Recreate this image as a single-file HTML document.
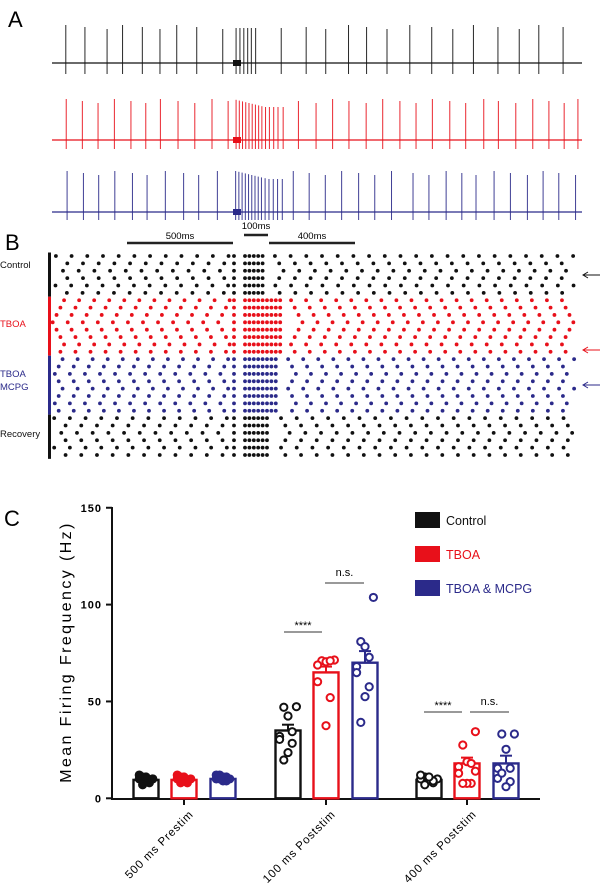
<!DOCTYPE html>
<html><head><meta charset="utf-8"><style>
html,body{margin:0;padding:0;background:#fff;}
svg{display:block;font-family:"Liberation Sans",Arial,sans-serif;}
</style></head><body>
<svg id="fig" width="600" height="896" viewBox="0 0 600 896">
<text x="8" y="27" font-size="22">A</text>
<text x="5" y="250" font-size="22">B</text>
<text x="4" y="526" font-size="22">C</text>
<g id="pa"></g>
<g id="pb"></g>
<g id="pc"></g>
</svg>
<script>
const NS="http://www.w3.org/2000/svg";
function mk(tag,attrs,parent,txt){const e=document.createElementNS(NS,tag);for(const k in attrs)e.setAttribute(k,attrs[k]);if(txt!==undefined)e.textContent=txt;parent.appendChild(e);return e;}

// ---------- Panel A data (spike times, ms relative to stim) ----------
const spikesControl=[-787,-698,-595,-523,-431,-349,-271,-178,-57,5,23,41,59,76,96,215,331,422,528,612,707,813,915,1013,1109,1223,1322,1413,1526];
const spikesTBOA=[-785,-710,-637,-561,-484,-415,-347,-265,-187,-107,-32,5,20,35,50,65,80,95,110,125,142,160,180,200,224,295,377,454,530,610,687,767,842,918,999,1073,1157,1225,1306,1385,1460,1531,1595];
const spikesMCPG=[-781,-705,-634,-559,-477,-409,-324,-239,-169,-82,3,18,33,48,63,78,93,108,123,140,158,178,198,220,271,345,420,496,575,650,728,828,902,982,1055,1121,1205,1281,1360,1433,1506,1584];
const traceLabels=["control","tboa","tboa-mcpg"];
const tx=t=>235+t*0.215;
const pa=document.getElementById('pa');
const traces=[[spikesControl,"#111",63,25,74],[spikesTBOA,"#e8101a",140,99,149],[spikesMCPG,"#2b2a8a",212,171,220]];
traces.forEach((tr,i)=>{
  const g=mk('g',{},pa);
  
  
  const [sp,c,b,top,bot]=tr;
  mk('line',{x1:52,x2:582,y1:b,y2:b,stroke:c,'stroke-width':1.2},g);
  mk('rect',{x:233,y:b-3,width:8,height:6,fill:c},g);
  sp.forEach((t,j)=>{
    const burst=t>0&&t<230;
    const tp=top+(burst?(i==0?3:Math.min(8,(j-10)*0.8)):(j%3)*2);
    const l=mk('line',{x1:tx(t),x2:tx(t),y1:tp,y2:bot,stroke:c,'stroke-width':1,'stroke-opacity':0.9},g);
    
    
  });
});

// ---------- Panel B data ----------
const groupNames=["Control","TBOA","TBOA MCPG","Recovery"];
const groupRows=[6,8,8,6];
const groupISI=[73,70,70,73];
const groupBurst=[5,9,8,6];
const rowPhase=[10,30,50,30,12,32, 5,22,40,58,40,22,5,22, 12,30,48,30,12,30,48,30, 18,38,58,38,18,38];
const groupColors=["#111","#e8101a","#2b2a8a","#111"];
const pb=document.getElementById('pb');
const rowY0=256,rowDY=7.37;
let r=0;
groupRows.forEach((n,gi)=>{
  const y0=rowY0+r*rowDY-3.5;
  const bar=mk('rect',{x:48,y:y0,width:3,height:n*rowDY,fill:groupColors[gi]},pb);
  
  
  for(let k=0;k<n;k++,r++){
    const y=rowY0+r*rowDY, c=groupColors[gi], isi=groupISI[gi], ph=rowPhase[r];
    const g=mk('g',{fill:c},pb);
    
    
    for(let t=-ph-20;t>-850;t-=isi){mk('circle',{cx:tx(t),cy:y,r:1.9},g);}
    mk('circle',{cx:234,cy:y,r:1.9},g);
    for(let b=0;b<groupBurst[gi];b++){mk('circle',{cx:245+b*4.4,cy:y,r:1.9},g);}
    const bEnd=(groupBurst[gi]-1)*4.4/0.215+50;
    for(let t=bEnd+ph+isi*0.6;tx(t)<577;t+=isi){mk('circle',{cx:tx(t),cy:y,r:1.9},g);}
  }
});
const lab=[["Control",0,268,"#111"],["TBOA",0,327,"#e8101a"],["TBOA",0,377,"#2b2a8a"],["MCPG",0,390,"#2b2a8a"],["Recovery",0,437,"#111"]];
lab.forEach(l=>{const t=mk('text',{x:l[1],y:l[2],'font-size':9.5,fill:l[3]},pb,l[0]);});
[[275,"#111"],[350,"#e8101a"],[385,"#2b2a8a"]].forEach(a=>{
  const g=mk('g',{stroke:a[1],fill:'none','stroke-width':1},pb);
  
  
  mk('line',{x1:583,x2:600,y1:a[0],y2:a[0]},g);
  mk('polyline',{points:`588,${a[0]-3} 583,${a[0]} 588,${a[0]+3}`},g);
});
const sb=[["500ms",127,233,243,180,239],["100ms",244,268,235,256,229],["400ms",269,355,243,312,239]];
sb.forEach(s=>{
  const g=mk('g',{},pb);
  
  
  mk('line',{x1:s[1],x2:s[2],y1:s[3],y2:s[3],stroke:'#222','stroke-width':2.5},g);
  mk('text',{x:s[4],y:s[5],'font-size':9.5,'text-anchor':'middle'},g,s[0]);
});

// ---------- Panel C data ----------
const categories=["500 ms Prestim","100 ms Poststim","400 ms Poststim"];
const seriesNames=["Control","TBOA","TBOA & MCPG"];
const meanControl=[9.5,35,9.5];
const meanTBOA=[9.5,65,18];
const meanMCPG=[10,70,18];
const semControl=[0.6,3,0.5];
const semTBOA=[0.6,3,3];
const semMCPG=[0.6,6,4];
const ptsControl=[[10,11,9,8,10,12,9,11,7,10],[47.3,47,42.5,34.4,32,30.4,28.4,23.6,19.8],[10,11,9,8,10,12,9,11,7]];
const ptsTBOA=[[10,11,9,8,10,12,9,11,8],[71.4,71,70.5,71,68.8,60.2,52,37.5],[34.4,27.5,18.9,18,16.3,12.9,7.7,7.7,7.7,14]];
const ptsMCPG=[[10,12,9,11,10,12,9,11,10],[103.7,80.9,78.3,72.8,68,64.9,57.6,52.5,39.2],[33.2,33.2,25.3,15.5,15.5,10.3,8.6,6,13]];
const yTicks=[0,50,100,150];
const pc=document.getElementById('pc');
const y=v=>798.3-v*1.937;
const groupX=[184,326,467], off=[-38,0,39];
const cols=["#111","#e8101a","#2b2a8a"];
const means=[meanControl,meanTBOA,meanMCPG], sems=[semControl,semTBOA,semMCPG], pts=[ptsControl,ptsTBOA,ptsMCPG];
mk('line',{x1:112,x2:112,y1:507,y2:799.5,stroke:'#111','stroke-width':2},pc);
mk('line',{x1:111,x2:540,y1:799,y2:799,stroke:'#111','stroke-width':2},pc);
yTicks.forEach(v=>{
  const g=mk('g',{},pc);
  
  
  mk('line',{x1:106,x2:112,y1:y(v),y2:y(v),stroke:'#111','stroke-width':2},g);
  mk('text',{x:102,y:y(v)+4,'font-size':11,'font-weight':'bold','text-anchor':'end','letter-spacing':1},g,String(v));
});
const yl=mk('text',{x:0,y:0,'font-size':16,'text-anchor':'middle','letter-spacing':2.4,transform:'translate(71,652) rotate(-90)'},pc,"Mean Firing Frequency (Hz)");


categories.forEach((c,ci)=>{
  mk('line',{x1:groupX[ci],x2:groupX[ci],y1:799,y2:805,stroke:'#111','stroke-width':2},pc);
  const t=mk('text',{x:0,y:0,'font-size':11.5,'text-anchor':'end','letter-spacing':0.8,transform:`translate(${groupX[ci]+10},${815}) rotate(-45)`},pc,c);
  
  
  for(let s=0;s<3;s++){
    const cx=groupX[ci]+off[s], m=means[s][ci], e=sems[s][ci], col=cols[s];
    const g=mk('g',{},pc);
    
    
    mk('rect',{x:cx-12.5,y:y(m),width:25,height:y(0)-y(m),fill:'#fff',stroke:col,'stroke-width':2.4},g);
    mk('line',{x1:cx,x2:cx,y1:y(m),y2:y(m+e),stroke:col,'stroke-width':2},g);
    mk('line',{x1:cx-6,x2:cx+6,y1:y(m+e),y2:y(m+e),stroke:col,'stroke-width':2},g);
    pts[s][ci].forEach((v,k)=>{
      const jx=((k%5)-2)*4.2*(k%2?1:-1)*(ci==0?0.8:1);
      const p=mk('circle',{cx:cx+jx,cy:y(v),r:3.6,fill:ci==0?col:'#fff',stroke:col,'stroke-width':2},g);
      
      
    });
  }
});
[["****",284,322,632,625],["n.s.",325,364,583,576],["****",424,462,712,705],["n.s.",470,509,712,705]].forEach(s=>{
  const g=mk('g',{},pc);
  
  
  mk('line',{x1:s[1],x2:s[2],y1:s[3],y2:s[3],stroke:'#333','stroke-width':1},g);
  mk('text',{x:(s[1]+s[2])/2,y:s[4]+(s[0]=="****"?4:0),'font-size':11,'text-anchor':'middle'},g,s[0]);
});
seriesNames.forEach((n,i)=>{
  const g=mk('g',{},pc);
  
  
  const yy=[512,546,580][i];
  mk('rect',{x:415,y:yy,width:25,height:16,fill:cols[i]},g);
  mk('text',{x:446,y:yy+13,'font-size':12.5,fill:cols[i]},g,n);
});
</script>
</body></html>
